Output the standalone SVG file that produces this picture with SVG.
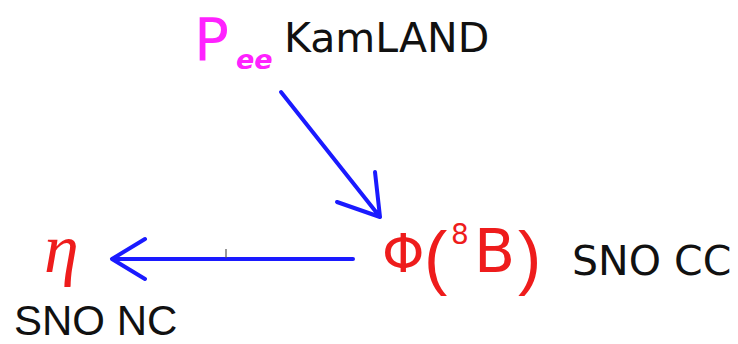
<svg xmlns="http://www.w3.org/2000/svg" width="738" height="344" viewBox="0 0 738 344">
<style>
.lbl{font-family:"DejaVu Sans","Liberation Sans",sans-serif;fill:#111;}
.red{fill:#ee1c1c;font-family:"DejaVu Sans","Liberation Sans",sans-serif;}
.par{fill:#ee1c1c;font-family:"Liberation Sans","DejaVu Sans",sans-serif;}
.mag{fill:#ff22ff;font-family:"DejaVu Sans","Liberation Sans",sans-serif;}
.arr{stroke:#1a1aff;stroke-width:4;fill:none;stroke-linecap:round;stroke-linejoin:round;}
</style>
<rect width="738" height="344" fill="#fff"/>
<g id="node-pee">
<text class="mag" x="194" y="60" font-size="58">P</text>
<text class="mag" x="236" y="69" font-size="27" font-weight="bold" font-style="italic">ee</text>
<text class="lbl" x="284" y="52" font-size="41">KamLAND</text>
</g>
<g id="node-phi">
<text class="red" x="382" y="272" font-size="54">Φ</text>
<text class="par" x="424" y="281" font-size="70">(</text>
<text class="red" x="451" y="244" font-size="28">8</text>
<text class="red" x="474" y="272" font-size="60">B</text>
<text class="par" x="518" y="281" font-size="70">)</text>
<text class="lbl" x="572" y="275" font-size="41">SNO CC</text>
</g>
<g id="node-eta">
<text x="44" y="272" font-size="70" font-style="italic" fill="#ee1c1c" font-family="'Liberation Serif','DejaVu Serif',serif">η</text>
<text x="14" y="335" font-size="42" fill="#111" font-family="'Liberation Sans','DejaVu Sans',sans-serif">SNO NC</text>
</g>
<g id="connectors">
<path class="arr" d="M281 92 L380 217 M337 202 L380 217 L375 172"/>
<path class="arr" d="M353 259 L112 259 M145 239 L112 259 L145 279"/>
<line x1="226" y1="249" x2="226" y2="258" stroke="#555" stroke-width="1.2"/>
</g>
</svg>
